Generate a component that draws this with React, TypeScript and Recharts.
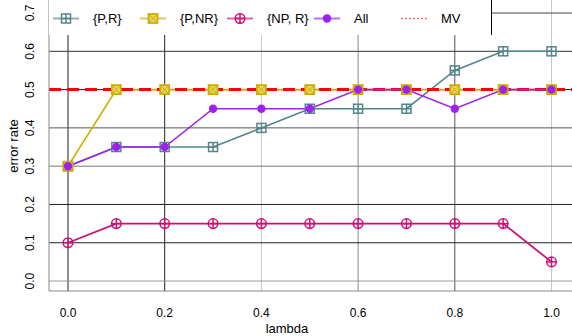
import React from 'react';
import {
  LineChart,
  Line,
  XAxis,
  YAxis,
  ReferenceLine,
  Legend,
} from 'recharts';

const lambdas = [0, 0.1, 0.2, 0.3, 0.4, 0.5, 0.6, 0.7, 0.8, 0.9, 1.0];
const pR = [0.3, 0.35, 0.35, 0.35, 0.4, 0.45, 0.45, 0.45, 0.55, 0.6, 0.6];
const pNR = [0.3, 0.5, 0.5, 0.5, 0.5, 0.5, 0.5, 0.5, 0.5, 0.5, 0.5];
const npR = [0.1, 0.15, 0.15, 0.15, 0.15, 0.15, 0.15, 0.15, 0.15, 0.15, 0.05];
const all = [0.3, 0.35, 0.35, 0.45, 0.45, 0.45, 0.5, 0.5, 0.45, 0.5, 0.5];
const mvRate = 0.5;

const xTicks = [0, 0.2, 0.4, 0.6, 0.8, 1.0];
const yTicks = [0, 0.1, 0.2, 0.3, 0.4, 0.5, 0.6, 0.7];
const legendNames = ['{P,R}', '{P,NR}', '{NP, R}', 'All', 'MV'];

const data = lambdas.map((l, i) => ({
  lambda: l,
  pR: pR[i],
  pNR: pNR[i],
  npR: npR[i],
  all: all[i],
}));

const FONT = '"Liberation Sans", Arial, Helvetica, sans-serif';
const TEAL = '#53868b';
const GOLD = '#cdad00';
const PINK = '#cd1076';
const PURPLE = '#a020f0';
const RED = '#ff0000';

// grid shades, as they come out in the original raster
const vGridColor = ['#222', '#222', '#c8c8c8', '#888', '#555', '#c8c8c8'];
const hGridColor = ['#999', '#222', '#222', '#777', '#555', '#222', '#333', '#444'];

type DotProps = { cx?: number; cy?: number; index?: number };

function SquarePlus({ cx = 0, cy = 0, color = TEAL }: DotProps & { color?: string }) {
  const h = 4.5;
  return (
    <g stroke={color} strokeWidth={1.5} fill="none">
      <rect x={cx - h} y={cy - h} width={h * 2} height={h * 2} />
      <line x1={cx - h} y1={cy} x2={cx + h} y2={cy} />
      <line x1={cx} y1={cy - h} x2={cx} y2={cy + h} />
    </g>
  );
}

function SquareCross({ cx = 0, cy = 0, color = GOLD }: DotProps & { color?: string }) {
  const h = 4.5;
  return (
    <g stroke={color} strokeWidth={1.8} fill="#e8d460">
      <rect x={cx - h} y={cy - h} width={h * 2} height={h * 2} />
      <line x1={cx - h} y1={cy - h} x2={cx + h} y2={cy + h} strokeWidth={1} />
      <line x1={cx - h} y1={cy + h} x2={cx + h} y2={cy - h} strokeWidth={1} />
    </g>
  );
}

function CirclePlus({ cx = 0, cy = 0, color = PINK }: DotProps & { color?: string }) {
  const r = 4.8;
  return (
    <g stroke={color} strokeWidth={1.5} fill="none">
      <circle cx={cx} cy={cy} r={r} />
      <line x1={cx - r} y1={cy} x2={cx + r} y2={cy} />
      <line x1={cx} y1={cy - r} x2={cx} y2={cy + r} />
    </g>
  );
}

function Disc({ cx = 0, cy = 0, color = PURPLE }: DotProps & { color?: string }) {
  return <circle cx={cx} cy={cy} r={4.2} fill={color} stroke="none" />;
}

function LegendBox() {
  const colors = [TEAL, GOLD, PINK, PURPLE, RED];
  const markers = [SquarePlus, SquareCross, CirclePlus, Disc, null];
  return (
    <svg width={443} height={35} style={{ display: 'block' }}>
      {legendNames.map((name, i) => {
        const x0 = 4 + i * 87;
        const M = markers[i];
        return (
          <g key={name}>
            <line
              x1={x0}
              y1={18.5}
              x2={x0 + 26}
              y2={18.5}
              stroke={colors[i]}
              strokeOpacity={i === 4 ? 0.6 : 0.65}
              strokeWidth={i === 4 ? 1.5 : 2}
              strokeDasharray={i === 4 ? '2 2' : undefined}
            />
            {M && <M cx={x0 + 13} cy={18.5} color={colors[i]} />}
            <text
              x={x0 + 40}
              y={18.5}
              dominantBaseline="central"
              fontFamily={FONT}
              fontSize={13}
              fill="#000"
            >
              {name}
            </text>
          </g>
        );
      })}
    </svg>
  );
}

function XTick({ x, payload }: { x?: number; payload?: { value: number } }) {
  return (
    <text x={x} y={313} textAnchor="middle" dominantBaseline="central" fontFamily={FONT} fontSize={12} fill="#000">
      {payload?.value.toFixed(1)}
    </text>
  );
}

function YTick({ y, payload }: { y?: number; payload?: { value: number } }) {
  return (
    <text
      x={30}
      y={y}
      transform={`rotate(-90 30 ${y})`}
      textAnchor="middle"
      dominantBaseline="central"
      fontFamily={FONT}
      fontSize={12}
      fill="#000"
    >
      {payload?.value.toFixed(1)}
    </text>
  );
}

export default function App() {
  return (
    <div style={{ position: 'absolute', left: 0, top: 0, width: 572, height: 336, overflow: 'hidden', background: '#fff' }}>
      <LineChart width={572} height={336} data={data} margin={{ top: 0, right: 0, bottom: 0, left: 0 }}>
        <XAxis
          dataKey="lambda"
          type="number"
          domain={[-0.0393, 1.0424]}
          ticks={xTicks}
          allowDataOverflow
          height={45}
          axisLine={{ stroke: '#888' }}
          tickLine={false}
          tick={<XTick />}
          label={{
            content: () => (
              <text x={287} y={328} textAnchor="middle" dominantBaseline="central" fontFamily={FONT} fontSize={13} fill="#000">
                lambda
              </text>
            ),
          }}
        />
        <YAxis
          type="number"
          domain={[-0.026, 0.734]}
          ticks={yTicks}
          allowDataOverflow
          width={49}
          axisLine={{ stroke: '#888' }}
          tickLine={false}
          tick={<YTick />}
          label={{
            content: () => (
              <text
                x={13}
                y={146}
                transform="rotate(-90 13 146)"
                textAnchor="middle"
                dominantBaseline="central"
                fontFamily={FONT}
                fontSize={13}
                fill="#000"
              >
                error rate
              </text>
            ),
          }}
        />
        {xTicks.map((t, i) => (
          <ReferenceLine key={`vx${t}`} x={t} stroke={vGridColor[i]} strokeWidth={1} zIndex={-100} />
        ))}
        {yTicks.map((t, i) => (
          <ReferenceLine key={`hy${t}`} y={t} stroke={hGridColor[i]} strokeWidth={1} zIndex={-100} />
        ))}
        <Line
          dataKey="pR"
          stroke={TEAL}
          strokeWidth={1.6}
          isAnimationActive={false}
          dot={(p: DotProps) => <SquarePlus key={`a${p.index}`} {...p} />}
          activeDot={false}
        />
        <Line
          dataKey="pNR"
          stroke={GOLD}
          strokeWidth={1.6}
          isAnimationActive={false}
          dot={(p: DotProps) => <SquareCross key={`b${p.index}`} {...p} />}
          activeDot={false}
        />
        <Line
          dataKey="npR"
          stroke={PINK}
          strokeWidth={1.8}
          isAnimationActive={false}
          dot={(p: DotProps) => <CirclePlus key={`c${p.index}`} {...p} />}
          activeDot={false}
        />
        <ReferenceLine y={mvRate} stroke={RED} strokeWidth={3} strokeDasharray="12 6" zIndex={450} />
        <Line
          dataKey="all"
          stroke={PURPLE}
          strokeWidth={1.6}
          isAnimationActive={false}
          dot={(p: DotProps) => <Disc key={`d${p.index}`} {...p} />}
          activeDot={false}
          zIndex={500}
        />
        <Legend
          layout="horizontal"
          verticalAlign="middle"
          align="center"
          wrapperStyle={{
            top: 0,
            left: 49,
            width: 443,
            height: 35,
            background: '#fff',
            borderRight: '1px solid #000',
            boxSizing: 'border-box',
          }}
          content={() => <LegendBox />}
        />
      </LineChart>
    </div>
  );
}
